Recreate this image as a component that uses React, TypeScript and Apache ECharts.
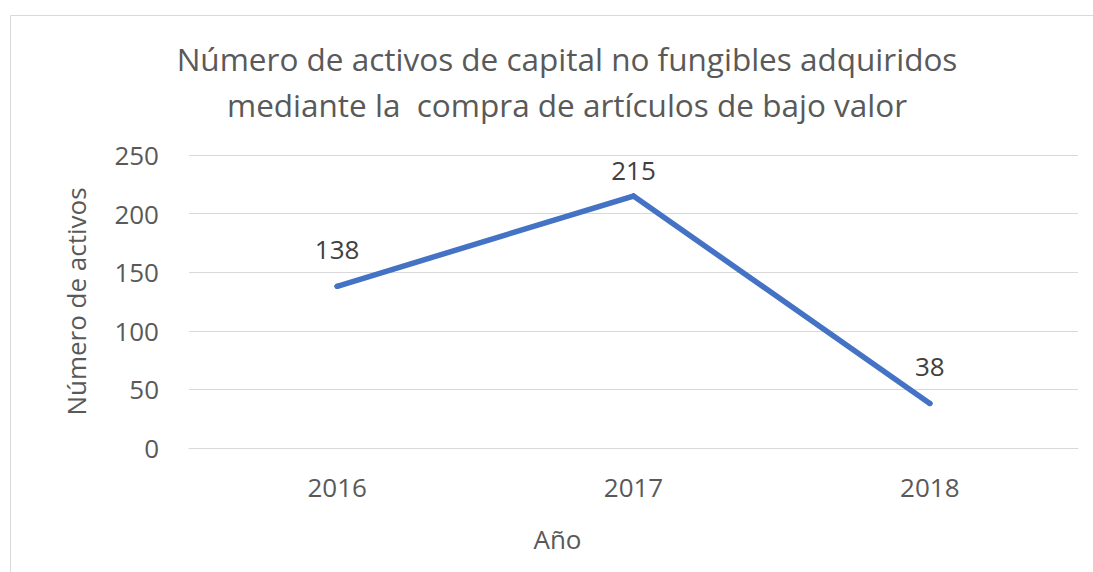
import React, { useEffect, useRef } from "react";
import * as echarts from "echarts";

const titleLines = [
  "Número de activos de capital no fungibles adquiridos",
  "mediante la  compra de artículos de bajo valor",
];
const years = ["2016", "2017", "2018"];
const values = [138, 215, 38];
const yAxisName = "Número de activos";
const xAxisName = "Año";

const FONT = "'Open Sans', 'Noto Sans', sans-serif";

export default function App() {
  const ref = useRef<HTMLDivElement>(null);
  useEffect(() => {
    if (!ref.current) return;
    const chart = echarts.init(ref.current, undefined, { renderer: "svg" });
    const maxIdx = values.indexOf(Math.max(...values));
    chart.setOption({
      animation: false,
      backgroundColor: "#ffffff",
      title: {
        text: titleLines.join("\n"),
        left: 562,
        textAlign: "center",
        top: 30,
        textStyle: {
          fontFamily: FONT,
          fontSize: 31.5,
          fontWeight: "normal",
          color: "#595959",
          lineHeight: 46,
        },
      },
      graphic: [
        {
          type: "rect",
          shape: { x: 10.5, y: 15.5, width: 1200, height: 700 },
          style: { fill: "none", stroke: "#d9d9d9", lineWidth: 1 },
          silent: true,
        },
      ],
      grid: { left: 189, right: 15, top: 155, bottom: 124 },
      xAxis: {
        type: "category",
        data: years,
        boundaryGap: true,
        name: xAxisName,
        nameLocation: "middle",
        nameGap: 78,
        nameTextStyle: {
          fontFamily: FONT,
          fontSize: 26,
          color: "#595959",
          padding: [0, 152, 0, 0],
        },
        axisLine: { lineStyle: { color: "#d9d9d9", width: 1 } },
        axisTick: { show: false },
        axisLabel: { fontFamily: FONT, fontSize: 26, color: "#595959", margin: 26 },
      },
      yAxis: {
        type: "value",
        min: 0,
        max: 250,
        interval: 50,
        name: yAxisName,
        nameLocation: "middle",
        nameGap: 100,
        nameRotate: 90,
        nameTextStyle: { fontFamily: FONT, fontSize: 26, color: "#595959" },
        axisLine: { show: false },
        axisTick: { show: false },
        axisLabel: { fontFamily: FONT, fontSize: 26, color: "#595959", margin: 30 },
        splitLine: { lineStyle: { color: "#d9d9d9", width: 1 } },
      },
      series: [
        {
          type: "line",
          data: values.map((v, i) =>
            i === maxIdx ? { value: v, label: { distance: 10 } } : v
          ),
          symbol: "circle",
          symbolSize: 5.5,
          showSymbol: true,
          itemStyle: { color: "#4472C4" },
          lineStyle: { color: "#4472C4", width: 5.5, cap: "round", join: "miter" },
          label: {
            show: true,
            position: "top",
            distance: 22,
            fontFamily: FONT,
            fontSize: 26,
            color: "#404040",
          },
        },
      ],
    });
    return () => chart.dispose();
  }, []);
  return (
    <div
      ref={ref}
      style={{ position: "fixed", left: 0, top: 0, width: 1093, height: 572 }}
    />
  );
}
